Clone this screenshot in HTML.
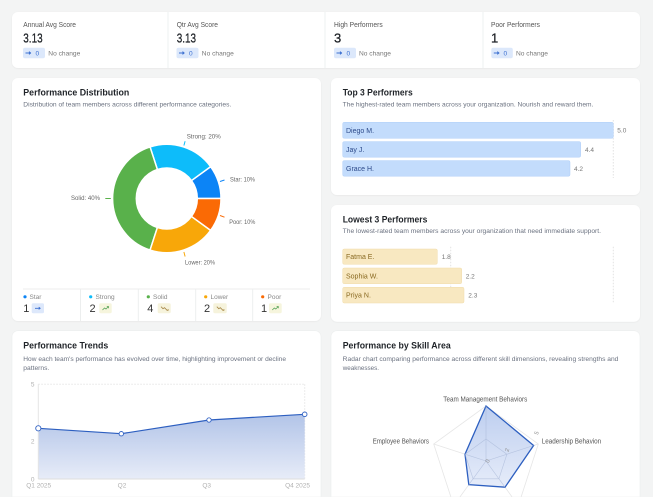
<!DOCTYPE html>
<html><head><meta charset="utf-8"><style>
html,body{margin:0;padding:0;background:#f3f4f4;width:653px;height:497px;overflow:hidden;}
svg{display:block;font-family:"Liberation Sans",sans-serif;overflow:hidden;}
</style></head><body>
<svg width="653" height="497" viewBox="0 0 653 497" xmlns="http://www.w3.org/2000/svg">
<defs>
<filter id="sh" x="-5%" y="-5%" width="110%" height="115%"><feDropShadow dx="0" dy="0.5" stdDeviation="0.8" flood-color="#000" flood-opacity="0.06"/></filter>
<linearGradient id="ga" x1="0" y1="0" x2="0" y2="1"><stop offset="0" stop-color="#b2c4e8"/><stop offset="1" stop-color="#e7ecf8"/></linearGradient>
<linearGradient id="gr" x1="0" y1="0" x2="0" y2="1"><stop offset="0" stop-color="#b9cbee" stop-opacity="0.95"/><stop offset="1" stop-color="#e3eaf9" stop-opacity="0.9"/></linearGradient>
</defs>
<rect width="653" height="497" fill="#f3f4f4"/>

<!-- KPI card -->
<rect x="12" y="12" width="628" height="56" rx="6" fill="#fff" filter="url(#sh)"/>
<g stroke="#eef0f0" stroke-width="1"><line x1="168" y1="12" x2="168" y2="68"/><line x1="325" y1="12" x2="325" y2="68"/><line x1="483" y1="12" x2="483" y2="68"/></g>
<g font-size="7" fill="#555">
<text x="23.3" y="26.8" textLength="52.7" lengthAdjust="spacingAndGlyphs">Annual Avg Score</text>
<text x="176.7" y="26.8" textLength="41.3" lengthAdjust="spacingAndGlyphs">Qtr Avg Score</text>
<text x="334" y="26.8" textLength="48.7" lengthAdjust="spacingAndGlyphs">High Performers</text>
<text x="491" y="26.8" textLength="49" lengthAdjust="spacingAndGlyphs">Poor Performers</text>
</g>
<g font-size="13" fill="#1f2328" stroke="#1f2328" stroke-width="0.25">
<text x="23.3" y="42.3" textLength="19.3" lengthAdjust="spacingAndGlyphs">3.13</text>
<text x="176.7" y="42.3" textLength="19.3" lengthAdjust="spacingAndGlyphs">3.13</text>
<text x="334" y="42.3">3</text>
<text x="491" y="42.3">1</text>
</g>
<g>
<rect x="23" y="47.7" width="22" height="10.6" rx="2" fill="#dce8fb"/>
<rect x="176.5" y="47.7" width="22" height="10.6" rx="2" fill="#dce8fb"/>
<rect x="334" y="47.7" width="22" height="10.6" rx="2" fill="#dce8fb"/>
<rect x="491.3" y="47.7" width="21.5" height="10.6" rx="2" fill="#dce8fb"/>
</g>
<g stroke="#3b6fd0" stroke-width="0.9" fill="none">
<path d="M25.5 53h5.5M29 51.6l1.6 1.4l-1.6 1.4"/>
<path d="M179 53h5.5M182.5 51.6l1.6 1.4l-1.6 1.4"/>
<path d="M336.5 53h5.5M340 51.6l1.6 1.4l-1.6 1.4"/>
<path d="M493.8 53h5.5M497.3 51.6l1.6 1.4l-1.6 1.4"/>
</g>
<g font-size="6.5" fill="#3b6fd0">
<text x="35.5" y="55.3">0</text><text x="189" y="55.3">0</text><text x="346.5" y="55.3">0</text><text x="503.5" y="55.3">0</text>
</g>
<g font-size="6.5" fill="#777">
<text x="48.3" y="55.3" textLength="32" lengthAdjust="spacingAndGlyphs">No change</text>
<text x="201.8" y="55.3" textLength="32" lengthAdjust="spacingAndGlyphs">No change</text>
<text x="359" y="55.3" textLength="32" lengthAdjust="spacingAndGlyphs">No change</text>
<text x="516" y="55.3" textLength="32" lengthAdjust="spacingAndGlyphs">No change</text>
</g>

<!-- Distribution card -->
<rect x="12" y="78" width="309" height="243" rx="6" fill="#fff" filter="url(#sh)"/>
<text x="23.3" y="95.6" font-size="9" font-weight="700" fill="#1f2328" textLength="106" lengthAdjust="spacingAndGlyphs">Performance Distribution</text>
<text x="23.3" y="106.5" font-size="6.5" fill="#6b7280" textLength="208" lengthAdjust="spacingAndGlyphs">Distribution of team members across different performance categories.</text>
<g stroke="#fff" stroke-width="1.5" stroke-linejoin="round">
<path d="M221 198.5A54.2 54.2 0 0 0 210.65 166.64L191.47 180.57A30.5 30.5 0 0 1 197.3 198.5Z" fill="#0c84f6"/>
<path d="M210.65 166.64A54.2 54.2 0 0 0 150.05 146.95L157.38 169.49A30.5 30.5 0 0 1 191.47 180.57Z" fill="#0dbcfa"/>
<path d="M150.05 146.95A54.2 54.2 0 0 0 150.05 250.05L157.38 227.51A30.5 30.5 0 0 1 157.38 169.49Z" fill="#59b14b"/>
<path d="M150.05 250.05A54.2 54.2 0 0 0 210.65 230.36L191.47 216.43A30.5 30.5 0 0 1 157.38 227.51Z" fill="#f8a709"/>
<path d="M210.65 230.36A54.2 54.2 0 0 0 221 198.5L197.3 198.5A30.5 30.5 0 0 1 191.47 216.43Z" fill="#fa6a05"/>
</g>
<g stroke-width="1">
<line x1="183.9" y1="145.5" x2="185.1" y2="141.2" stroke="#0dbcfa"/>
<line x1="220" y1="181.5" x2="224.5" y2="180" stroke="#0c84f6"/>
<line x1="220" y1="215.5" x2="224.5" y2="217.2" stroke="#fa6a05"/>
<line x1="183.9" y1="252" x2="185.1" y2="256.5" stroke="#f8a709"/>
<line x1="105.3" y1="198.5" x2="110.8" y2="198.5" stroke="#59b14b"/>
</g>
<g font-size="6.8" fill="#666">
<text x="186.7" y="138.4" textLength="34" lengthAdjust="spacingAndGlyphs">Strong: 20%</text>
<text x="230" y="181.7" textLength="25" lengthAdjust="spacingAndGlyphs">Star: 10%</text>
<text x="229.3" y="224.1" textLength="26" lengthAdjust="spacingAndGlyphs">Poor: 10%</text>
<text x="185" y="264.7" textLength="30" lengthAdjust="spacingAndGlyphs">Lower: 20%</text>
<text x="71" y="199.8" textLength="29" lengthAdjust="spacingAndGlyphs">Solid: 40%</text>
</g>
<line x1="23" y1="289" x2="310" y2="289" stroke="#eceeee"/>
<g stroke="#eceeee"><line x1="80.5" y1="289" x2="80.5" y2="321"/><line x1="138.3" y1="289" x2="138.3" y2="321"/><line x1="195.7" y1="289" x2="195.7" y2="321"/><line x1="252.7" y1="289" x2="252.7" y2="321"/></g>
<circle cx="25" cy="296.8" r="1.6" fill="#0c84f6"/>
<circle cx="90.7" cy="296.8" r="1.6" fill="#0dbcfa"/>
<circle cx="148.3" cy="296.8" r="1.6" fill="#59b14b"/>
<circle cx="205.7" cy="296.8" r="1.6" fill="#f8a709"/>
<circle cx="262.7" cy="296.8" r="1.6" fill="#fa6a05"/>
<g font-size="6.5" fill="#888">
<text x="29.5" y="299">Star</text><text x="95.5" y="299">Strong</text><text x="153" y="299">Solid</text><text x="210.5" y="299">Lower</text><text x="267.5" y="299">Poor</text>
</g>
<g font-size="11" fill="#333">
<text x="23.3" y="312.2">1</text><text x="89.5" y="312.2">2</text><text x="147.3" y="312.2">4</text><text x="204" y="312.2">2</text><text x="261" y="312.2">1</text>
</g>
<rect x="31.7" y="303.3" width="12.3" height="10" rx="1.5" fill="#dde8fb"/>
<rect x="99.3" y="303.3" width="12.4" height="10" rx="1.5" fill="#f6f5dd"/>
<rect x="157.7" y="303.3" width="13" height="10" rx="1.5" fill="#f6f3dc"/>
<rect x="213.3" y="303.3" width="13.4" height="10" rx="1.5" fill="#f6f3dc"/>
<rect x="269" y="303.3" width="12.7" height="10" rx="1.5" fill="#f6f5dd"/>
<g fill="none" stroke-width="0.8">
<path d="M35 308.3h5.5M38.7 307.1l1.5 1.2l-1.5 1.2" stroke="#3b6fd0"/>
<path d="M102.5 310l2-2l1.5 1l2.5-2.5M106.8 306.5h1.7v1.7" stroke="#5aa55a"/>
<path d="M161 306.7l2 2l1.5-1l2.5 2.5M166.7 310.4h1.4v-1.4" stroke="#a8894a"/>
<path d="M216.8 306.7l2 2l1.5-1l2.5 2.5M222.5 310.4h1.4v-1.4" stroke="#a8894a"/>
<path d="M272.3 310l2-2l1.5 1l2.5-2.5M276.6 306.5h1.7v1.7" stroke="#5aa55a"/>
</g>

<!-- Top 3 card -->
<rect x="331" y="78" width="309" height="117" rx="6" fill="#fff" filter="url(#sh)"/>
<text x="342.7" y="95.6" font-size="9" font-weight="700" fill="#1f2328" textLength="70" lengthAdjust="spacingAndGlyphs">Top 3 Performers</text>
<text x="342.7" y="106.5" font-size="6.5" fill="#6b7280" textLength="250.7" lengthAdjust="spacingAndGlyphs">The highest-rated team members across your organization. Nourish and reward them.</text>
<line x1="613.3" y1="120" x2="613.3" y2="178" stroke="#e2e2e2" stroke-dasharray="1.5 1.5"/>
<g fill="#c3dcfc" stroke="#b0cff8" stroke-width="0.5">
<rect x="342.7" y="122.3" width="270.6" height="16" rx="1.5"/>
<rect x="342.7" y="141.6" width="238" height="15.6" rx="1.5"/>
<rect x="342.7" y="160.6" width="227.3" height="15.6" rx="1.5"/>
</g>
<g font-size="7" fill="#2d4a8a">
<text x="346" y="132.8">Diego M.</text><text x="346" y="151.9">Jay J.</text><text x="346" y="170.9">Grace H.</text>
</g>
<g font-size="6.5" fill="#777">
<text x="617.3" y="132.6">5.0</text><text x="585" y="151.8">4.4</text><text x="574" y="170.8">4.2</text>
</g>

<!-- Lowest 3 card -->
<rect x="331" y="205" width="309" height="116.7" rx="6" fill="#fff" filter="url(#sh)"/>
<text x="342.7" y="222.6" font-size="9" font-weight="700" fill="#1f2328" textLength="84.7" lengthAdjust="spacingAndGlyphs">Lowest 3 Performers</text>
<text x="342.7" y="233" font-size="6.5" fill="#6b7280" textLength="258.3" lengthAdjust="spacingAndGlyphs">The lowest-rated team members across your organization that need immediate support.</text>
<g stroke="#e2e2e2" stroke-dasharray="1.5 1.5"><line x1="450.7" y1="246.7" x2="450.7" y2="303"/><line x1="613.3" y1="246.7" x2="613.3" y2="303"/></g>
<g fill="#f8e8c1" stroke="#f0dcaa" stroke-width="0.5">
<rect x="342.7" y="249" width="94.6" height="15.3" rx="1.5"/>
<rect x="342.7" y="268" width="119" height="15.7" rx="1.5"/>
<rect x="342.7" y="287.3" width="121.3" height="15.7" rx="1.5"/>
</g>
<g font-size="7" fill="#8a6a22">
<text x="346" y="259.2">Fatma E.</text><text x="346" y="278.4">Sophia W.</text><text x="346" y="297.6">Priya N.</text>
</g>
<g font-size="6.5" fill="#777">
<text x="441.7" y="259">1.8</text><text x="465.7" y="278.3">2.2</text><text x="468.3" y="297.5">2.3</text>
</g>

<!-- Trends card (open bottom, ends at frame edge) -->
<path d="M12 497V336.7A6 6 0 0 1 18 330.7H315A6 6 0 0 1 321 336.7V497Z" fill="#fff" stroke="#eceeee" stroke-width="0.6"/>
<text x="23.3" y="348.3" font-size="9" font-weight="700" fill="#1f2328" textLength="85" lengthAdjust="spacingAndGlyphs">Performance Trends</text>
<text x="23.3" y="361" font-size="6.5" fill="#6b7280" textLength="262.7" lengthAdjust="spacingAndGlyphs">How each team's performance has evolved over time, highlighting improvement or decline</text>
<text x="23.3" y="370" font-size="6.5" fill="#6b7280" textLength="26" lengthAdjust="spacingAndGlyphs">patterns.</text>
<g stroke="#e6e6e6" stroke-dasharray="1.5 1.5"><line x1="38.3" y1="384.3" x2="304.7" y2="384.3"/><line x1="304.7" y1="384.3" x2="304.7" y2="479"/></g>
<path d="M38.3 428.3L121.3 433.7L209 420L304.7 414.3L304.7 479L38.3 479Z" fill="url(#ga)"/>
<line x1="38.3" y1="441.3" x2="304.7" y2="441.3" stroke="#c8d4ee" stroke-dasharray="1.5 1.5"/>
<line x1="38.3" y1="384.3" x2="38.3" y2="479" stroke="#e4e4e4"/>
<line x1="38.3" y1="479" x2="304.7" y2="479" stroke="#dedede"/>
<path d="M38.3 428.3L121.3 433.7L209 420L304.7 414.3" fill="none" stroke="#2d5fc0" stroke-width="1.2"/>
<g fill="#fff" stroke="#3565c5" stroke-width="0.9">
<circle cx="38.3" cy="428.3" r="2.6"/><circle cx="121.3" cy="433.7" r="2.2"/><circle cx="209" cy="420" r="2.2"/><circle cx="304.7" cy="414.3" r="2.3"/>
</g>
<g font-size="6.5" fill="#b0b0b0">
<text x="34.5" y="386.6" text-anchor="end">5</text>
<text x="34.5" y="443.6" text-anchor="end">2</text>
<text x="34.5" y="481.3" text-anchor="end">0</text>
<text x="38.7" y="487.5" text-anchor="middle">Q1 2025</text>
<text x="122" y="487.5" text-anchor="middle">Q2</text>
<text x="206.7" y="487.5" text-anchor="middle">Q3</text>
<text x="310" y="487.5" text-anchor="end">Q4 2025</text>
</g>

<!-- Skill card (open bottom) -->
<path d="M331 497V336.7A6 6 0 0 1 337 330.7H634A6 6 0 0 1 640 336.7V497Z" fill="#fff" stroke="#eceeee" stroke-width="0.6"/>
<text x="342.7" y="348.3" font-size="9" font-weight="700" fill="#1f2328" textLength="108" lengthAdjust="spacingAndGlyphs">Performance by Skill Area</text>
<text x="342.7" y="361" font-size="6.5" fill="#6b7280" textLength="275.7" lengthAdjust="spacingAndGlyphs">Radar chart comparing performance across different skill dimensions, revealing strengths and</text>
<text x="342.7" y="370" font-size="6.5" fill="#6b7280" textLength="36.3" lengthAdjust="spacingAndGlyphs">weaknesses.</text>
<g fill="none" stroke="#e6e6e6" stroke-width="0.8">
<polyline points="450.9,497 433.7,444 486,406 538.3,444 521.1,497"/>
<polygon points="486,439 506.9,454.2 498.9,478.8 473.1,478.8 465.1,454.2"/>
<path d="M486 461L486 406M486 461L538.3 444M486 461L512.1 497M486 461L459.9 497M486 461L433.7 444"/>
</g>
<polygon points="486,406 533.6,445.5 505,487.2 468.8,484.7 465,454.2" fill="url(#gr)" stroke="#2d5fc0" stroke-width="1.3" stroke-linejoin="miter"/>
<g fill="none" stroke="#a9b8d8" stroke-width="0.6" opacity="0.7">
<path d="M486 461L486 406M486 461L533.6 445.5M486 461L505 487.2M486 461L468.8 484.7M486 461L465 454.2"/>
<polygon points="486,439 506.9,454.2 498.9,478.8 473.1,478.8 465.1,454.2"/>
</g>
<g font-size="5.8" fill="#8d8d8d">
<text x="487.5" y="463" text-anchor="middle" transform="rotate(-72 487.5 461)">0</text>
<text x="507" y="452" text-anchor="middle" transform="rotate(-72 507 450)">2</text>
<text x="536.5" y="435" text-anchor="middle" transform="rotate(-72 536.5 433)">5</text>
</g>
<g font-size="7" fill="#555">
<text x="485.3" y="401.3" text-anchor="middle" textLength="84" lengthAdjust="spacingAndGlyphs">Team Management Behaviors</text>
<text x="372.7" y="443.6" textLength="56.3" lengthAdjust="spacingAndGlyphs">Employee Behaviors</text>
<text x="541.7" y="443.6" textLength="59.5" lengthAdjust="spacingAndGlyphs">Leadership Behavion</text>
</g>
</svg>
</body></html>
